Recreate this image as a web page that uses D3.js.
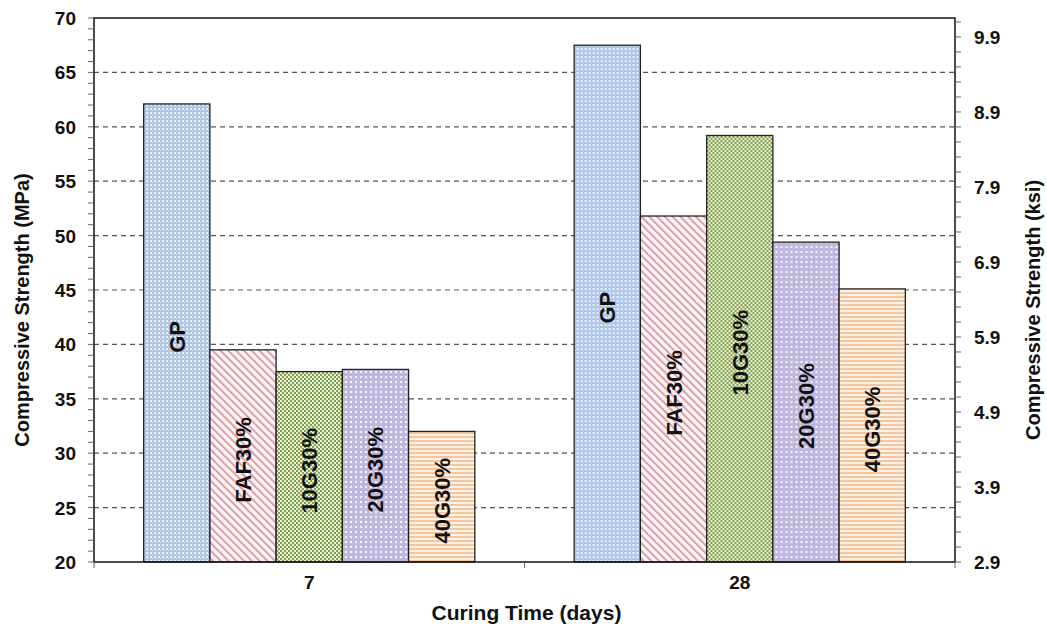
<!DOCTYPE html>
<html>
<head>
<meta charset="utf-8">
<script src="https://cdn.jsdelivr.net/npm/d3@7/dist/d3.min.js"></script>
<style>
  body { margin: 0; background: #fff; }
  text { font-family: "Liberation Sans", Arial, sans-serif; font-weight: bold; }
</style>
</head>
<body>
<div id="chart"></div>
<script>
const days = ['7', '28']
const mixes = ['GP', 'FAF30%', '10G30%', '20G30%', '40G30%']
const strength7 = [62.1, 39.5, 37.5, 37.7, 32.0]
const strength28 = [67.5, 51.8, 59.2, 49.4, 45.1]
const mpaTicks = [20, 25, 30, 35, 40, 45, 50, 55, 60, 65, 70]
const ksiTicks = [2.9, 3.9, 4.9, 5.9, 6.9, 7.9, 8.9, 9.9]

const w = 1047, h = 630
const plotL = 94, plotR = 955, plotT = 18, plotB = 562
const MPA_PER_KSI = 6.895

const svg = d3.select('#chart').append('svg')
  .attr('width', w).attr('height', h)

// fill patterns for each mix
const defs = svg.append('defs')

const pGP = defs.append('pattern').attr('id', 'p0')
  .attr('patternUnits', 'userSpaceOnUse').attr('width', 4).attr('height', 4)
pGP.append('rect').attr('width', 4).attr('height', 4).attr('fill', '#a9c3e6')
pGP.append('rect').attr('x', 0).attr('y', 0).attr('width', 2).attr('height', 2).attr('fill', '#eaf1fb')
pGP.append('rect').attr('x', 2).attr('y', 2).attr('width', 1).attr('height', 1).attr('fill', '#dce7f6')

const pFAF = defs.append('pattern').attr('id', 'p1')
  .attr('patternUnits', 'userSpaceOnUse').attr('width', 5.5).attr('height', 5.5)
  .attr('patternTransform', 'rotate(-45)')
pFAF.append('rect').attr('width', 5.5).attr('height', 5.5).attr('fill', '#fdf5f6')
pFAF.append('rect').attr('width', 2).attr('height', 5.5).attr('fill', '#dc9ea7')

const p10 = defs.append('pattern').attr('id', 'p2')
  .attr('patternUnits', 'userSpaceOnUse').attr('width', 4).attr('height', 4)
p10.append('rect').attr('width', 4).attr('height', 4).attr('fill', '#e8f0d2')
p10.append('rect').attr('x', 0).attr('y', 0).attr('width', 2).attr('height', 2).attr('fill', '#82a050')
p10.append('rect').attr('x', 2).attr('y', 2).attr('width', 2).attr('height', 2).attr('fill', '#82a050')

const p20 = defs.append('pattern').attr('id', 'p3')
  .attr('patternUnits', 'userSpaceOnUse').attr('width', 5).attr('height', 5)
p20.append('rect').attr('width', 5).attr('height', 5).attr('fill', '#c0b7de')
p20.append('rect').attr('x', 1).attr('y', 1).attr('width', 2).attr('height', 2).attr('fill', '#f5f2fb')

const p40 = defs.append('pattern').attr('id', 'p4')
  .attr('patternUnits', 'userSpaceOnUse').attr('width', 4).attr('height', 4)
p40.append('rect').attr('width', 4).attr('height', 4).attr('fill', '#fdf2e8')
p40.append('rect').attr('y', 0).attr('width', 4).attr('height', 2).attr('fill', '#f5c69c')

const y = d3.scaleLinear().domain([20, 70]).range([plotB, plotT])
const yKsi = d3.scaleLinear().domain([20 / MPA_PER_KSI, 70 / MPA_PER_KSI]).range([plotB, plotT])
const x0 = d3.scaleBand().domain(days).range([plotL, plotR])
const x1 = d3.scaleBand().domain(mixes)
  .range([0, x0.bandwidth()]).paddingOuter(0.75).paddingInner(0)

// gridlines
svg.append('g').selectAll('line')
  .data(mpaTicks.slice(1, -1))
  .enter().append('line')
  .attr('x1', plotL).attr('x2', plotR)
  .attr('y1', d => y(d)).attr('y2', d => y(d))
  .attr('stroke', '#555').attr('stroke-width', 1.2)
  .attr('stroke-dasharray', '5,4')

// bars
const rows = days.map((d, i) => ({ day: d, values: i === 0 ? strength7 : strength28 }))
const groups = svg.selectAll('g.grp')
  .data(rows).enter().append('g')
  .attr('class', 'grp')
  .attr('transform', d => `translate(${x0(d.day)},0)`)

groups.selectAll('rect')
  .data(d => d.values.map((v, i) => ({ mix: mixes[i], i: i, v: v })))
  .enter().append('rect')
  .attr('x', d => x1(d.mix))
  .attr('width', x1.bandwidth())
  .attr('y', d => y(d.v))
  .attr('height', d => y(20) - y(d.v))
  .attr('fill', d => `url(#p${d.i})`)
  .attr('stroke', '#222').attr('stroke-width', 1.3)

groups.selectAll('text')
  .data(d => d.values.map((v, i) => ({ mix: mixes[i], v: v })))
  .enter().append('text')
  .attr('transform', d => `translate(${x1(d.mix) + x1.bandwidth() / 2 + 8},${(y(d.v) + y(20)) / 2 + 4}) rotate(-90)`)
  .attr('text-anchor', 'middle')
  .attr('font-size', 22)
  .attr('fill', '#111')
  .text(d => d.mix)

// frame
svg.append('rect')
  .attr('x', plotL).attr('y', plotT)
  .attr('width', plotR - plotL).attr('height', plotB - plotT)
  .attr('fill', 'none').attr('stroke', '#111').attr('stroke-width', 1.5)

// left axis
const yAxis = svg.append('g').attr('transform', `translate(${plotL},0)`)
yAxis.selectAll('line.minor')
  .data(d3.range(20, 71, 1))
  .enter().append('line')
  .attr('x1', -6).attr('x2', 0)
  .attr('y1', d => y(d)).attr('y2', d => y(d))
  .attr('stroke', '#666').attr('stroke-width', 1)
yAxis.selectAll('text')
  .data(mpaTicks)
  .enter().append('text')
  .attr('x', -18).attr('y', d => y(d) + 7)
  .attr('text-anchor', 'end')
  .attr('font-size', 19).attr('fill', '#111')
  .text(d => d)

// right axis (ksi)
const rAxis = svg.append('g').attr('transform', `translate(${plotR},0)`)
rAxis.selectAll('line')
  .data(d3.range(2.9, 10.15, 0.2))
  .enter().append('line')
  .attr('x1', 0).attr('x2', 6)
  .attr('y1', d => yKsi(d)).attr('y2', d => yKsi(d))
  .attr('stroke', '#666').attr('stroke-width', 1)
rAxis.selectAll('text')
  .data(ksiTicks)
  .enter().append('text')
  .attr('x', 19).attr('y', d => yKsi(d) + 7)
  .attr('font-size', 19).attr('fill', '#111')
  .text(d => d3.format('.1f')(d))

// x axis ticks and labels
svg.append('g').selectAll('line')
  .data([plotL, x0('28'), plotR])
  .enter().append('line')
  .attr('x1', d => d).attr('x2', d => d)
  .attr('y1', plotB).attr('y2', plotB + 6)
  .attr('stroke', '#666')
svg.append('g').selectAll('text')
  .data(days)
  .enter().append('text')
  .attr('x', d => x0(d) + x0.bandwidth() / 2)
  .attr('y', 589)
  .attr('text-anchor', 'middle')
  .attr('font-size', 19).attr('fill', '#111')
  .text(d => d)

// axis titles
svg.append('text')
  .attr('x', (plotL + plotR) / 2 + 2).attr('y', 620)
  .attr('text-anchor', 'middle')
  .attr('font-size', 21).attr('fill', '#111')
  .text('Curing Time (days)')
svg.append('text')
  .attr('transform', `translate(29,${(plotT + plotB) / 2 + 20}) rotate(-90)`)
  .attr('text-anchor', 'middle')
  .attr('font-size', 20).attr('fill', '#111')
  .text('Compressive Strength (MPa)')
svg.append('text')
  .attr('transform', `translate(1040,${(plotT + plotB) / 2 + 20}) rotate(-90)`)
  .attr('text-anchor', 'middle')
  .attr('font-size', 20).attr('fill', '#111')
  .text('Compressive Strength (ksi)')
</script>
</body>
</html>
